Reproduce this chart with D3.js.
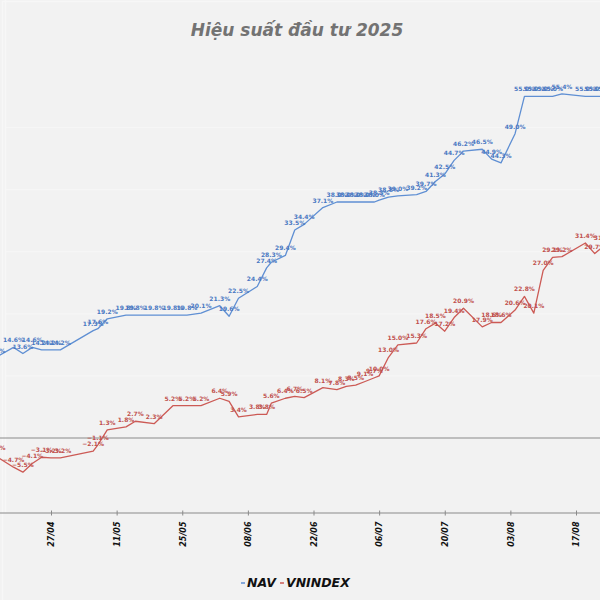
<!DOCTYPE html>
<html>
<head>
<meta charset="utf-8">
<script src="https://cdn.jsdelivr.net/npm/d3@7"></script>
<style>
  html, body { margin: 0; padding: 0; background: #f2f2f2; }
  svg { display: block; }
</style>
</head>
<body>
<svg id="chart" width="600" height="600"></svg>
<script>
// ---------- data ----------
const title = "Hiệu suất đầu tư 2025";
const seriesNames = ["NAV", "VNINDEX"];
const dates = [
  "2025-04-15","2025-04-19","2025-04-21","2025-04-23","2025-04-25","2025-04-27","2025-04-29",
  "2025-05-06","2025-05-07","2025-05-09","2025-05-13","2025-05-15","2025-05-19","2025-05-23",
  "2025-05-26","2025-05-29","2025-06-02","2025-06-04","2025-06-06","2025-06-10","2025-06-12",
  "2025-06-13","2025-06-16","2025-06-18","2025-06-20","2025-06-24","2025-06-27","2025-06-29",
  "2025-07-01","2025-07-03","2025-07-05","2025-07-06","2025-07-08","2025-07-10","2025-07-14",
  "2025-07-16","2025-07-18","2025-07-20","2025-07-22","2025-07-24","2025-07-28","2025-07-30",
  "2025-08-01","2025-08-04","2025-08-06","2025-08-08","2025-08-10","2025-08-12","2025-08-14",
  "2025-08-19","2025-08-21","2025-08-23"
];
const nav = [
  12.9,14.6,13.6,14.6,14.2,14.2,14.2,
  17.3,17.6,19.2,19.8,19.8,19.8,19.8,
  19.8,20.1,21.3,19.6,22.5,24.4,27.4,
  28.3,29.4,33.5,34.4,37.1,38.0,38.0,
  38.0,38.0,38.0,38.3,38.8,39.0,39.2,
  39.7,41.3,42.5,44.7,46.2,46.5,44.9,
  44.3,49.0,55.0,55.0,55.0,55.0,55.4,
  55.0,55.0,55.0
];
const vnindex = [
  -2.8,-4.7,-5.5,-4.1,-3.1,-3.2,-3.2,
  -2.1,-1.1,1.3,1.8,2.7,2.3,5.2,
  5.2,5.2,6.4,5.9,3.4,3.8,3.8,
  5.6,6.4,6.7,6.5,8.1,7.8,8.3,
  8.5,9.1,9.7,10.0,13.0,15.0,15.3,
  17.6,18.5,17.2,19.4,20.9,17.9,18.6,
  18.6,20.6,22.8,20.1,27.0,29.1,29.2,
  31.4,29.7,31.0
];
const tickDates = ["2025-04-27","2025-05-11","2025-05-25","2025-06-08","2025-06-22",
                   "2025-07-06","2025-07-20","2025-08-03","2025-08-17"];
const gridValues = [10, 20, 30, 40, 50];

// ---------- setup ----------
const W = 600, H = 600;
const parse = d3.utcParse("%Y-%m-%d");
const svg = d3.select("#chart");
const colors = { NAV: "#5f8fd3", VNINDEX: "#cc5a55" };
const labelColors = { NAV: "#4a78c2", VNINDEX: "#c0504d" };

svg.append("rect").attr("width", W).attr("height", H).attr("fill", "#f2f2f2");
svg.append("rect").attr("x", 2.5).attr("y", 1.5).attr("width", W).attr("height", H)
  .attr("fill", "none").attr("stroke", "#f7f7f7").attr("stroke-width", 1.2);

svg.append("defs").append("clipPath").attr("id", "clip")
  .append("rect").attr("x", 0).attr("y", 0).attr("width", W).attr("height", H);

const x = d3.scaleUtc()
  .domain([parse("2025-04-15"), parse("2025-08-23")])
  .range([-5.25, 604.125]);
const y = d3.scaleLinear().domain([0, 50]).range([438, 127.5]);
const yAxisVal = -12;

const g = svg.append("g").attr("clip-path", "url(#clip)");

// gridlines (very faint)
g.selectAll("line.grid").data(gridValues).join("line")
  .attr("class", "grid")
  .attr("x1", 5).attr("x2", W)
  .attr("y1", d => y(d)).attr("y2", d => y(d))
  .attr("stroke", "#f6f6f6").attr("stroke-width", 1.2);
g.append("line").attr("x1", 5.5).attr("x2", 5.5).attr("y1", 0).attr("y2", y(yAxisVal))
  .attr("stroke", "#f7f7f7").attr("stroke-width", 1.2);

// zero line
g.append("line").attr("x1", 0).attr("x2", W)
  .attr("y1", y(0)).attr("y2", y(0))
  .attr("stroke", "#8a8a8a").attr("stroke-width", 1);

// x axis
const xAxis = d3.axisBottom(x)
  .tickValues(tickDates.map(parse))
  .tickFormat(d3.utcFormat("%d/%m"))
  .tickSize(3);
const ax = g.append("g").attr("transform", `translate(0,${y(yAxisVal)})`).call(xAxis);
ax.select(".domain").attr("stroke", "#8a8a8a").attr("stroke-width", 1.2);
ax.selectAll(".tick line").attr("stroke", "#8a8a8a").attr("y1", -2).attr("y2", 3);
ax.selectAll(".tick text")
  .attr("transform", "rotate(-90)")
  .attr("text-anchor", "end")
  .attr("x", -9).attr("y", 0).attr("dy", "0.35em")
  .attr("fill", "#111")
  .style("font-family", "'DejaVu Sans', sans-serif")
  .style("font-size", "8px")
  .style("font-weight", "bold")
  .style("font-style", "italic");

// series
const series = [
  { name: "NAV", values: nav },
  { name: "VNINDEX", values: vnindex }
];
const line = d3.line().x(d => x(d.date)).y(d => y(d.v));
series.forEach(s => {
  const pts = dates.map((d, i) => ({ date: parse(d), v: s.values[i] }));
  g.append("path").datum(pts)
    .attr("d", line)
    .attr("fill", "none")
    .attr("stroke", colors[s.name])
    .attr("stroke-width", 1.3)
    .attr("stroke-linejoin", "round");
  g.selectAll(null).data(pts).join("text")
    .attr("x", d => x(d.date))
    .attr("y", d => y(d.v) - 5)
    .attr("text-anchor", "middle")
    .attr("fill", labelColors[s.name])
    .style("font-family", "'DejaVu Sans', sans-serif")
    .style("font-size", "6px")
    .style("font-weight", "bold")
    .text(d => d3.format(".1f")(d.v) + "%");
});

// title
svg.append("text")
  .attr("x", 297).attr("y", 36)
  .attr("text-anchor", "middle")
  .attr("fill", "#737373")
  .style("font-family", "'DejaVu Sans', sans-serif")
  .style("font-size", "17px")
  .style("font-weight", "bold")
  .style("font-style", "italic")
  .text(title);

// legend
const legend = svg.append("g").attr("transform", "translate(240,587)");
let lx = 0;
seriesNames.forEach(name => {
  legend.append("line")
    .attr("x1", lx + 1).attr("x2", lx + 5)
    .attr("y1", -4).attr("y2", -4)
    .attr("stroke", colors[name]).attr("stroke-width", 1.5);
  const t = legend.append("text")
    .attr("x", lx + 7).attr("y", 0)
    .attr("fill", "#111")
    .style("font-family", "'DejaVu Sans', sans-serif")
    .style("font-size", "12.5px")
    .style("font-weight", "bold")
    .style("font-style", "italic")
    .text(name);
  lx += 7 + t.node().getComputedTextLength() + 3;
});
</script>
</body>
</html>
